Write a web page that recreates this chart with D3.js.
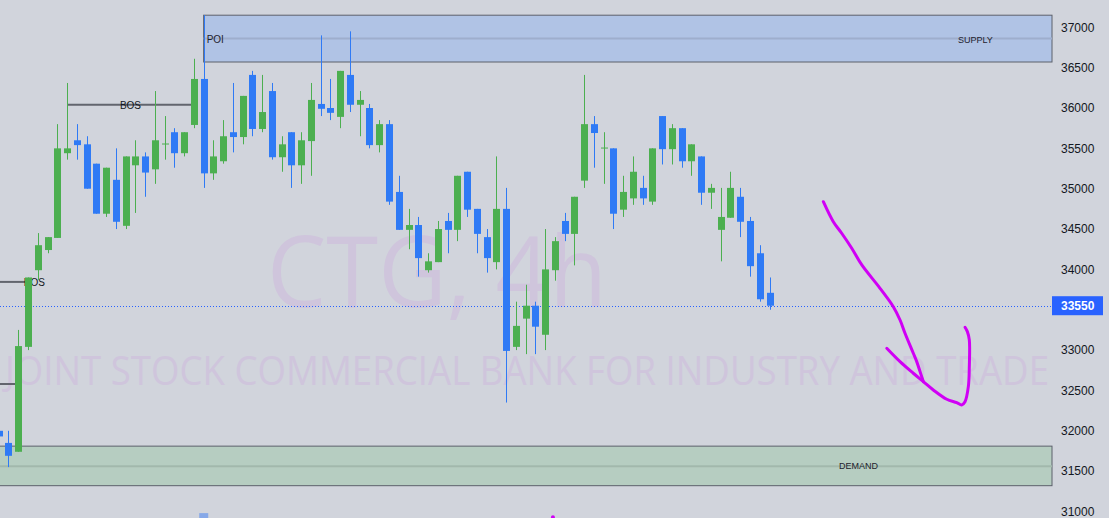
<!DOCTYPE html>
<html>
  <head>
    <style>
      body {
        margin: 0;
        background: #d1d4dc;
      }
      svg text {
        font-family: "Liberation Sans", Arial, sans-serif;
      }
    </style>
    <script src="https://d3js.org/d3.v7.min.js"></script>
  </head>
  <body>
    <script>
      // candle data (index 0 is partly cut at the left edge)
      const opens = [32000, 31850, 31740, 33040, 33990, 34240, 34390, 35440, 35600, 35550,
        35310, 34690, 35110, 34540, 35290, 35400, 35240, 35550, 35700, 35440,
        35790, 36360, 35190, 35340, 35700, 35640, 36410, 35740, 36210, 35390,
        35700, 35290, 35590, 36050, 36000, 35890, 36410, 36040, 36000, 35540,
        35800, 34960, 34490, 34550, 33990, 34090, 34600, 34490, 35210, 34750,
        34400, 34090, 34750, 33040, 33390, 33550, 33190, 33990, 34600, 34440,
        35100, 35800, 35500, 35500, 34740, 34880, 35010, 34840, 35900, 35490,
        35750, 35340, 35400, 34950, 34490, 34640, 34900, 34600, 34200, 33710];
      const highs = [32010, 32000, 33250, 33900, 34450, 34400, 35800, 36310, 35800, 35650,
        35310, 35260, 35500, 35400, 35600, 35450, 36210, 35900, 35750, 35700,
        36610, 37150, 35600, 35850, 36310, 36150, 36460, 36410, 36310, 35650,
        35700, 35700, 36310, 36900, 36360, 36460, 36950, 36210, 36050, 35850,
        35850, 35160, 34750, 34650, 34200, 34600, 34700, 35160, 35210, 34750,
        34500, 35400, 35010, 33600, 33810, 33600, 34500, 34400, 34700, 34900,
        36410, 35900, 35700, 35500, 35160, 35400, 35160, 35500, 35900, 35800,
        35750, 35550, 35400, 35060, 35010, 35210, 35010, 34650, 34300, 33900];
      const lows = [31920, 31550, 31740, 33000, 33870, 34200, 34390, 35360, 35360, 35000,
        34690, 34650, 34500, 34500, 34700, 34900, 35060, 35360, 35260, 35400,
        35750, 35010, 35110, 35310, 35450, 35550, 35650, 35700, 35360, 35210,
        35010, 35060, 35160, 35900, 35850, 35750, 35950, 35650, 35500, 35450,
        34800, 34490, 34250, 33910, 33960, 34090, 34200, 34350, 34650, 34200,
        33960, 34000, 32350, 33000, 32950, 32950, 33000, 33860, 34350, 34050,
        35010, 35260, 35060, 34500, 34650, 34800, 34800, 34800, 35300, 35300,
        35260, 35160, 34800, 34750, 34100, 34640, 34400, 33910, 33600, 33500];
      const closes = [31930, 31690, 33050, 33900, 34300, 34400, 35500, 35500, 35540, 35000,
        34690, 35260, 34590, 35400, 35400, 35200, 35600, 35560, 35440, 35700,
        36360, 35190, 35400, 35650, 35640, 36150, 35740, 35950, 35390, 35550,
        35290, 35600, 36100, 35990, 35940, 36460, 36040, 36100, 35540, 35800,
        34840, 34490, 34550, 34140, 34100, 34500, 34490, 35160, 34740, 34440,
        34140, 34750, 32990, 33300, 33550, 33290, 34000, 34350, 34440, 34900,
        35800, 35690, 35510, 34690, 34960, 35210, 34880, 35500, 35490, 35750,
        35340, 35550, 34950, 35010, 34650, 35010, 34590, 34040, 33630, 33550];

      const priceTicks = [37000, 36500, 36000, 35500, 35000, 34500, 34000, 33000, 32500, 32000, 31500, 31000];
      const lastPrice = 33550;

      // zones: [start index, top, middle, bottom]
      const supplyZone = [21, 37150, 36860, 36570];
      const demandZone = [-1, 31810, 31560, 31320];
      // horizontal levels: [from index, to index, price, label]
      const levels = [
        [7, 20, 36040, "BOS"],
        [-1, 3, 33845, "BOS"],
        [-1, 2, 32580, ""]
      ];

      // hand drawn arrow, [index, price]
      const arrowStroke1 = [[84.52, 34839], [85.54, 34591], [86.4, 34448], [87.43, 34262], [88.46, 34055],
        [90.33, 33766], [91.69, 33538], [92.38, 33373], [92.89, 33209], [93.74, 32961],
        [94.09, 32857], [94.6, 32671], [94.77, 32609]];
      const arrowStroke2 = [[91.02, 33023], [92.38, 32857], [93.74, 32713], [94.77, 32609], [95.79, 32506],
        [97.17, 32391], [98.19, 32349], [98.7, 32320], [99.04, 32361], [99.38, 32547],
        [99.48, 32795], [99.48, 33126], [99.28, 33229], [99.04, 33283]];

      const width = 1109;
      const height = 518;
      const plotRight = 1052;

      const green = "#4caf50";
      const blue = "#2f7af5";

      const x = d3.scaleLinear().domain([0, 79]).range([-1.26, 769.5]);
      const y = d3.scaleLinear().domain([31000, 37000]).range([511.5, 27.3]);

      const svg = d3
        .select("body")
        .append("svg")
        .attr("width", width)
        .attr("height", height)
        .style("display", "block");

      svg.append("rect").attr("width", width).attr("height", height).attr("fill", "#d1d4dc");

      svg
        .append("clipPath")
        .attr("id", "plot-clip")
        .append("rect")
        .attr("width", plotRight + 1)
        .attr("height", height);

      const plot = svg.append("g").attr("clip-path", "url(#plot-clip)");

      // watermark
      plot
        .append("text")
        .attr("x", 437)
        .attr("y", 307)
        .attr("text-anchor", "middle")
        .attr("fill", "#cfc5dc")
        .style("font-family", "'Open Sans', sans-serif")
        .style("font-size", "98px")
        .attr("textLength", 340)
        .attr("lengthAdjust", "spacingAndGlyphs")
        .text("CTG, 4h");

      plot
        .append("text")
        .attr("x", 527)
        .attr("y", 385)
        .attr("text-anchor", "middle")
        .attr("fill", "#cfc5dc")
        .style("font-family", "'Open Sans', sans-serif")
        .style("font-size", "40px")
        .attr("textLength", 1044)
        .attr("lengthAdjust", "spacingAndGlyphs")
        .text("JOINT STOCK COMMERCIAL BANK FOR INDUSTRY AND TRADE");

      // zones
      function zone(z, fill, midColor) {
        const x0 = Math.max(-2, x(z[0]));
        const g = plot.append("g");
        g.append("rect")
          .attr("x", x0)
          .attr("y", y(z[1]))
          .attr("width", plotRight - x0)
          .attr("height", y(z[3]) - y(z[1]))
          .attr("fill", fill)
          .attr("stroke", "#5d606b")
          .attr("stroke-width", 1);
        g.append("line")
          .attr("x1", x0)
          .attr("x2", plotRight)
          .attr("y1", y(z[2]))
          .attr("y2", y(z[2]))
          .attr("stroke", midColor)
          .attr("stroke-width", 2);
        return g;
      }

      const sup = zone(supplyZone, "#b0c3e5", "#9eaecd");
      sup.append("text").attr("x", x(supplyZone[0]) + 3).attr("y", y(supplyZone[2]) + 4)
        .style("font-size", "10px").attr("fill", "#1e222d").text("POI");
      sup.append("text").attr("x", 958).attr("y", y(supplyZone[2]) + 4)
        .style("font-size", "9px").attr("fill", "#1e222d").text("SUPPLY");

      const dem = zone(demandZone, "#b6cdc1", "#a2b8ac");
      dem.append("text").attr("x", 839).attr("y", y(demandZone[2]) + 3)
        .style("font-size", "9px").attr("fill", "#1e222d").text("DEMAND");

      // levels
      levels.forEach((l) => {
        const x0 = Math.max(0, x(l[0]));
        plot
          .append("line")
          .attr("x1", x0)
          .attr("x2", x(l[1]))
          .attr("y1", y(l[2]))
          .attr("y2", y(l[2]))
          .attr("stroke", "#62656e")
          .attr("stroke-width", 2);
        if (l[3]) {
          plot
            .append("text")
            .attr("x", (x(Math.max(l[0], 0)) + x(l[1])) / 2 + (l[0] < 0 ? 21 : 0))
            .attr("y", y(l[2]) + 4)
            .attr("text-anchor", "middle")
            .style("font-size", "10px")
            .attr("fill", "#131722")
            .text(l[3]);
        }
      });

      // last price dotted line
      plot
        .append("line")
        .attr("x1", 0)
        .attr("x2", plotRight)
        .attr("y1", Math.round(y(lastPrice)) + 0.5)
        .attr("y2", Math.round(y(lastPrice)) + 0.5)
        .attr("stroke", "#2962ff")
        .attr("stroke-width", 1)
        .attr("stroke-dasharray", "1,2");

      // candles
      const candles = d3.range(opens.length);
      const cg = plot.selectAll("g.candle").data(candles).enter().append("g");

      cg.append("line")
        .attr("x1", (i) => Math.round(x(i)) + 0.5)
        .attr("x2", (i) => Math.round(x(i)) + 0.5)
        .attr("y1", (i) => y(highs[i]))
        .attr("y2", (i) => y(lows[i]))
        .attr("stroke", (i) => (closes[i] >= opens[i] ? green : blue))
        .attr("stroke-width", 1);

      cg.append("rect")
        .attr("x", (i) => Math.round(x(i)) - 3)
        .attr("y", (i) => y(Math.max(opens[i], closes[i])))
        .attr("width", 7)
        .attr("height", (i) => Math.max(1, y(Math.min(opens[i], closes[i])) - y(Math.max(opens[i], closes[i]))))
        .attr("fill", (i) => (closes[i] >= opens[i] ? green : blue));

      // arrow drawing
      const arrowLine = d3
        .line()
        .x((d) => x(d[0]))
        .y((d) => y(d[1]))
        .curve(d3.curveCatmullRom);

      [arrowStroke1, arrowStroke2].forEach((s) => {
        plot
          .append("path")
          .attr("d", arrowLine(s))
          .attr("fill", "none")
          .attr("stroke", "#d000f5")
          .attr("stroke-width", 3)
          .attr("stroke-linecap", "round")
          .attr("stroke-linejoin", "round");
      });

      // small cut-off marks at the bottom edge
      plot.append("rect").attr("x", x(20.55)).attr("y", y(30980)).attr("width", 9).attr("height", 8).attr("fill", "#86a8e8");
      plot.append("circle").attr("cx", x(56.8)).attr("cy", y(30930)).attr("r", 2).attr("fill", "#d000f5");

      // price axis
      const axis = d3.axisRight(y).tickValues(priceTicks).tickSize(0).tickPadding(9).tickFormat(d3.format("d"));
      const ag = svg
        .append("g")
        .attr("transform", "translate(" + plotRight + ",0)")
        .call(axis);
      ag.select(".domain").remove();
      ag.selectAll("text").style("font-size", "12px").attr("fill", "#131722");

      // last price label
      const ly = y(lastPrice);
      svg
        .append("rect")
        .attr("x", plotRight)
        .attr("y", ly - 9.5)
        .attr("width", 51)
        .attr("height", 19)
        .attr("fill", "#2962ff");
      svg
        .append("text")
        .attr("x", plotRight + 9)
        .attr("y", ly + 4.5)
        .style("font-size", "12px")
        .style("font-weight", "bold")
        .attr("fill", "#ffffff")
        .text(lastPrice);
    </script>
  </body>
</html>
